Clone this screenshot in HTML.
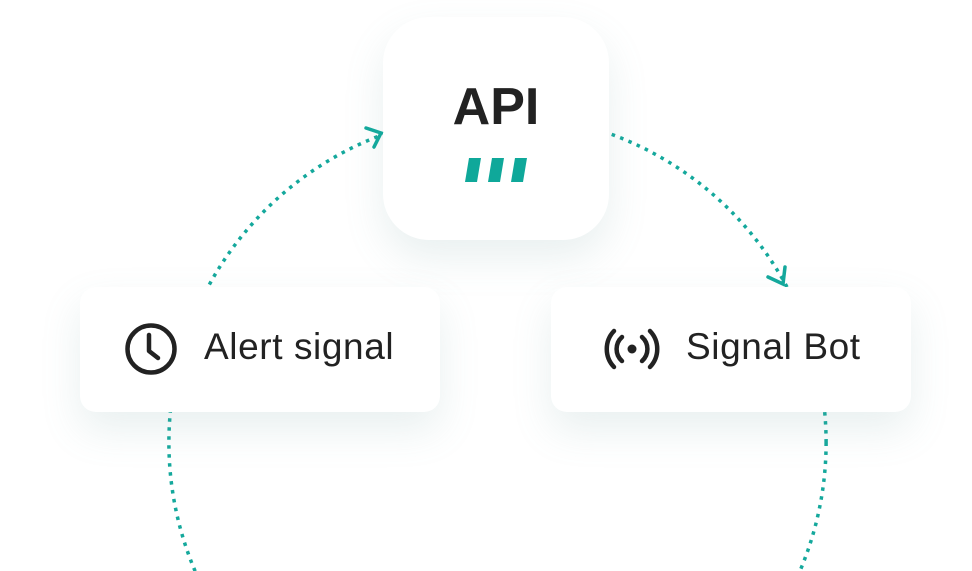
<!DOCTYPE html>
<html><head><style>
html,body{margin:0;padding:0;background:#fff;overflow:hidden;width:972px;height:571px;}
body{position:relative;font-family:"Liberation Sans",sans-serif;}
.box{position:absolute;background:#fff;box-shadow:0 18px 40px rgba(120,160,160,0.16);}
.t{position:absolute;color:#222;white-space:nowrap;}
svg{display:block;}
</style></head><body>
<svg width="972" height="571" style="position:absolute;left:0;top:0">
<circle cx="497.5" cy="442.5" r="328.6" fill="none" stroke="#14a89c" stroke-width="3.5" stroke-dasharray="3.5 5.5"/>
</svg>
<div class="box" style="left:383px;top:17px;width:226px;height:223px;border-radius:46px"></div>
<div class="box" style="left:80px;top:287px;width:360px;height:125px;border-radius:16px"></div>
<div class="box" style="left:551px;top:287px;width:360px;height:125px;border-radius:16px"></div>
<svg width="972" height="571" style="position:absolute;left:0;top:0">
<g stroke="#14a89c" stroke-width="3.5" fill="none" stroke-linecap="round">
<path d="M366 128 L381 133 L374 147"/>
<path d="M768 277 L783 284 L785 267"/>
</g>
<g fill="#0fa89a">
<polygon points="469,158 481,158 477,182 465,182"/>
<polygon points="492,158 504,158 500,182 488,182"/>
<polygon points="515,158 527,158 523,182 511,182"/>
</g>
<circle cx="151" cy="349" r="23.5" fill="none" stroke="#222" stroke-width="4.5"/>
<path d="M149 335 L149 351 L158 358" fill="none" stroke="#222" stroke-width="4.5" stroke-linecap="round" stroke-linejoin="round"/>
<circle cx="632" cy="349" r="4.5" fill="#222"/>
<g fill="none" stroke="#222" stroke-width="4.5" stroke-linecap="round">
<path d="M622 337 A16 16 0 0 0 622 361"/>
<path d="M642 337 A16 16 0 0 1 642 361"/>
<path d="M614 331 A26 26 0 0 0 614 367"/>
<path d="M650 331 A26 26 0 0 1 650 367"/>
</g>
</svg>
<div class="t" style="left:383px;width:226px;top:77px;text-align:center;font-size:52px;font-weight:bold;">API</div>
<div class="t" style="left:204px;top:326px;font-size:37px;letter-spacing:0.6px">Alert signal</div>
<div class="t" style="left:686px;top:326px;font-size:37px;letter-spacing:0.6px">Signal Bot</div>
</body></html>
